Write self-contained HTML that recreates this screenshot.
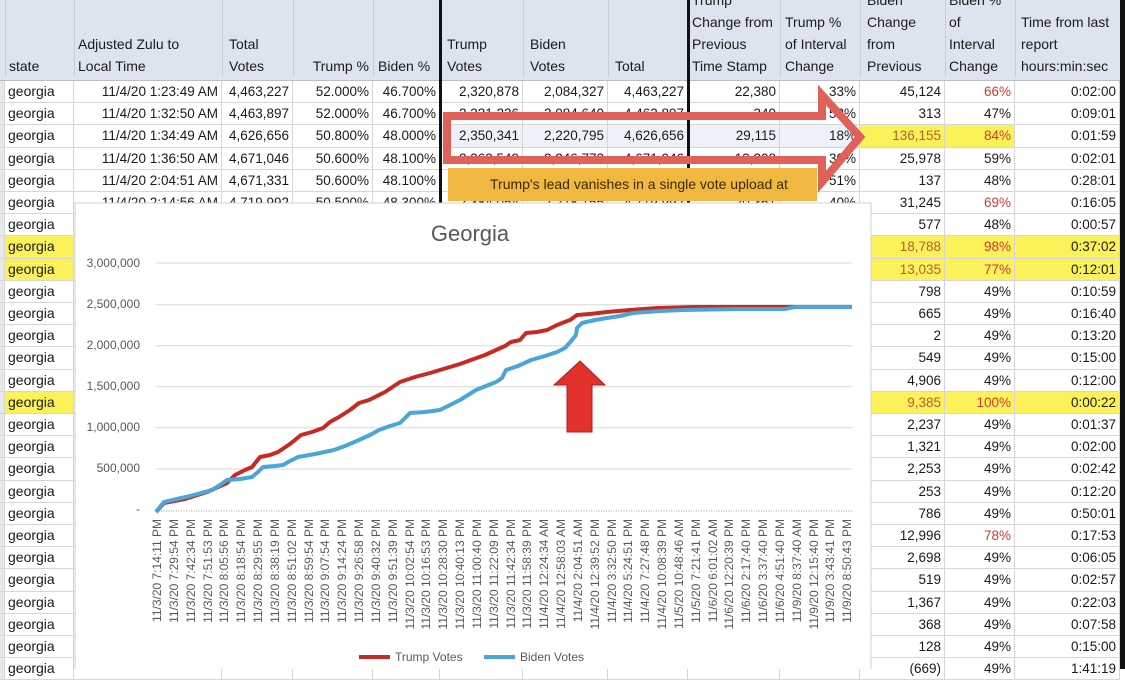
<!DOCTYPE html>
<html><head><meta charset="utf-8"><style>
*{margin:0;padding:0;box-sizing:border-box}
body{width:1125px;height:669px;overflow:hidden;background:#fff;position:relative;font-family:"Liberation Sans",sans-serif;font-size:13.5px;color:#1a1a1a}
.hd{position:absolute;left:0;top:0;width:1120px;height:81px;background:#dde4f0;border-bottom:1px solid #b8bfcc}
.h{position:absolute;bottom:3px;line-height:22px;font-size:14px;padding-left:3px;border-left:1px solid #c8cfdc;height:200px;display:flex;flex-direction:column;justify-content:flex-end}
.r{position:absolute;left:0;height:22.2px;width:1120px;display:flex;border-bottom:1px solid #d6d6d6}
.r div{height:100%;line-height:21px;text-align:right;padding-right:3px;border-right:1px solid #d6d6d6;white-space:nowrap;overflow:hidden}
.r div:nth-child(1){width:5px;background:#e8e8e8}
.r div:nth-child(2){width:69px;text-align:left;padding-left:3px;font-size:14px}
.r div:nth-child(3){width:148px}
.r div:nth-child(4){width:71px}
.r div:nth-child(5){width:80px}
.r div:nth-child(6){width:67px}
.r div:nth-child(7){width:83px}
.r div:nth-child(8){width:85px}
.r div:nth-child(9){width:80px}
.r div:nth-child(10){width:92px}
.r div:nth-child(11){width:80px}
.r div:nth-child(12){width:85px}
.r div:nth-child(13){width:70px}
.r div:nth-child(14){width:105px}
.y{background:#fbf25a}
.rd{color:#d23a32}
.or{color:#b8602a}
.t{background:#eef1f8}
</style></head><body>
<div class="hd">
<div class="h" style="left:5px;width:69px">state</div>
<div class="h" style="left:74px;width:148px">Adjusted Zulu to<br>Local Time</div>
<div class="h" style="left:222px;width:71px;padding-left:6px">Total<br>Votes</div>
<div class="h" style="left:293px;width:80px;align-items:flex-end;padding-right:4px">Trump %</div>
<div class="h" style="left:373px;width:67px;padding-left:4px">Biden %</div>
<div class="h" style="left:440px;width:83px;padding-left:6px">Trump<br>Votes</div>
<div class="h" style="left:523px;width:85px;padding-left:6px">Biden<br>Votes</div>
<div class="h" style="left:608px;width:80px;padding-left:6px">Total</div>
<div class="h" style="left:688px;width:92px">Trump<br>Change from<br>Previous<br>Time Stamp</div>
<div class="h" style="left:780px;width:80px;padding-left:4px">Trump %<br>of Interval<br>Change</div>
<div class="h" style="left:860px;width:85px;padding-left:6px">Biden<br>Change<br>from<br>Previous</div>
<div class="h" style="left:945px;width:70px;padding-left:3px">Biden %<br>of<br>Interval<br>Change</div>
<div class="h" style="left:1015px;width:105px;padding-left:5px">Time from last<br>report<br>hours:min:sec</div>
</div>

<div class="r" style="top:81px"><div></div><div>georgia</div><div>11/4/20 1:23:49 AM</div><div>4,463,227</div><div>52.000%</div><div>46.700%</div><div>2,320,878</div><div>2,084,327</div><div>4,463,227</div><div>22,380</div><div>33%</div><div>45,124</div><div class="rd">66%</div><div>0:02:00</div></div>
<div class="r" style="top:103.2px"><div></div><div>georgia</div><div>11/4/20 1:32:50 AM</div><div>4,463,897</div><div>52.000%</div><div>46.700%</div><div>2,321,226</div><div>2,084,640</div><div>4,463,897</div><div>349</div><div>52%</div><div>313</div><div>47%</div><div>0:09:01</div></div>
<div class="r" style="top:125.4px"><div></div><div>georgia</div><div>11/4/20 1:34:49 AM</div><div>4,626,656</div><div>50.800%</div><div>48.000%</div><div class="t">2,350,341</div><div class="t">2,220,795</div><div class="t">4,626,656</div><div class="t">29,115</div><div class="t">18%</div><div class="y or">136,155</div><div class="y rd">84%</div><div>0:01:59</div></div>
<div class="r" style="top:147.6px"><div></div><div>georgia</div><div>11/4/20 1:36:50 AM</div><div>4,671,046</div><div>50.600%</div><div>48.100%</div><div>2,363,549</div><div>2,246,773</div><div>4,671,046</div><div>13,208</div><div>30%</div><div>25,978</div><div>59%</div><div>0:02:01</div></div>
<div class="r" style="top:169.8px"><div></div><div>georgia</div><div>11/4/20 2:04:51 AM</div><div>4,671,331</div><div>50.600%</div><div>48.100%</div><div>2,363,693</div><div>2,246,910</div><div>4,671,331</div><div>144</div><div>51%</div><div>137</div><div>48%</div><div>0:28:01</div></div>
<div class="r" style="top:192px"><div></div><div>georgia</div><div>11/4/20 2:14:56 AM</div><div>4,719,992</div><div>50.500%</div><div>48.300%</div><div>2,384,054</div><div>2,278,155</div><div>4,719,992</div><div>20,361</div><div>40%</div><div>31,245</div><div class="rd">69%</div><div>0:16:05</div></div>
<div class="r" style="top:214.2px"><div></div><div>georgia</div><div></div><div></div><div></div><div></div><div></div><div></div><div></div><div></div><div></div><div>577</div><div>48%</div><div>0:00:57</div></div>
<div class="r" style="top:236.4px"><div></div><div class="y">georgia</div><div></div><div></div><div></div><div></div><div></div><div></div><div></div><div></div><div></div><div class="y or">18,788</div><div class="y rd">98%</div><div class="y">0:37:02</div></div>
<div class="r" style="top:258.6px"><div></div><div class="y">georgia</div><div></div><div></div><div></div><div></div><div></div><div></div><div></div><div></div><div></div><div class="y or">13,035</div><div class="y rd">77%</div><div class="y">0:12:01</div></div>
<div class="r" style="top:280.8px"><div></div><div>georgia</div><div></div><div></div><div></div><div></div><div></div><div></div><div></div><div></div><div></div><div>798</div><div>49%</div><div>0:10:59</div></div>
<div class="r" style="top:303px"><div></div><div>georgia</div><div></div><div></div><div></div><div></div><div></div><div></div><div></div><div></div><div></div><div>665</div><div>49%</div><div>0:16:40</div></div>
<div class="r" style="top:325.2px"><div></div><div>georgia</div><div></div><div></div><div></div><div></div><div></div><div></div><div></div><div></div><div></div><div>2</div><div>49%</div><div>0:13:20</div></div>
<div class="r" style="top:347.4px"><div></div><div>georgia</div><div></div><div></div><div></div><div></div><div></div><div></div><div></div><div></div><div></div><div>549</div><div>49%</div><div>0:15:00</div></div>
<div class="r" style="top:369.6px"><div></div><div>georgia</div><div></div><div></div><div></div><div></div><div></div><div></div><div></div><div></div><div></div><div>4,906</div><div>49%</div><div>0:12:00</div></div>
<div class="r" style="top:391.8px"><div></div><div class="y">georgia</div><div></div><div></div><div></div><div></div><div></div><div></div><div></div><div></div><div></div><div class="y or">9,385</div><div class="y rd">100%</div><div class="y">0:00:22</div></div>
<div class="r" style="top:414px"><div></div><div>georgia</div><div></div><div></div><div></div><div></div><div></div><div></div><div></div><div></div><div></div><div>2,237</div><div>49%</div><div>0:01:37</div></div>
<div class="r" style="top:436.2px"><div></div><div>georgia</div><div></div><div></div><div></div><div></div><div></div><div></div><div></div><div></div><div></div><div>1,321</div><div>49%</div><div>0:02:00</div></div>
<div class="r" style="top:458.4px"><div></div><div>georgia</div><div></div><div></div><div></div><div></div><div></div><div></div><div></div><div></div><div></div><div>2,253</div><div>49%</div><div>0:02:42</div></div>
<div class="r" style="top:480.6px"><div></div><div>georgia</div><div></div><div></div><div></div><div></div><div></div><div></div><div></div><div></div><div></div><div>253</div><div>49%</div><div>0:12:20</div></div>
<div class="r" style="top:502.8px"><div></div><div>georgia</div><div></div><div></div><div></div><div></div><div></div><div></div><div></div><div></div><div></div><div>786</div><div>49%</div><div>0:50:01</div></div>
<div class="r" style="top:525px"><div></div><div>georgia</div><div></div><div></div><div></div><div></div><div></div><div></div><div></div><div></div><div></div><div>12,996</div><div class="rd">78%</div><div>0:17:53</div></div>
<div class="r" style="top:547.2px"><div></div><div>georgia</div><div></div><div></div><div></div><div></div><div></div><div></div><div></div><div></div><div></div><div>2,698</div><div>49%</div><div>0:06:05</div></div>
<div class="r" style="top:569.4px"><div></div><div>georgia</div><div></div><div></div><div></div><div></div><div></div><div></div><div></div><div></div><div></div><div>519</div><div>49%</div><div>0:02:57</div></div>
<div class="r" style="top:591.6px"><div></div><div>georgia</div><div></div><div></div><div></div><div></div><div></div><div></div><div></div><div></div><div></div><div>1,367</div><div>49%</div><div>0:22:03</div></div>
<div class="r" style="top:613.8px"><div></div><div>georgia</div><div></div><div></div><div></div><div></div><div></div><div></div><div></div><div></div><div></div><div>368</div><div>49%</div><div>0:07:58</div></div>
<div class="r" style="top:636px"><div></div><div>georgia</div><div></div><div></div><div></div><div></div><div></div><div></div><div></div><div></div><div></div><div>128</div><div>49%</div><div>0:15:00</div></div>
<div class="r" style="top:658.2px"><div></div><div>georgia</div><div></div><div></div><div></div><div></div><div></div><div></div><div></div><div></div><div></div><div>(669)</div><div>49%</div><div>1:41:19</div></div>

<div style="position:absolute;left:1120px;top:0;width:5px;height:669px;background:#111"></div>
<div style="position:absolute;left:439px;top:0;width:3px;height:203px;background:#111"></div>
<div style="position:absolute;left:687px;top:0;width:3px;height:203px;background:#111"></div>

<svg style="position:absolute;left:0;top:0" width="1125" height="669" viewBox="0 0 1125 669" font-family="Liberation Sans, sans-serif">
<polygon points="447,116 822,116 822,95 860,137 822,182 822,160 447,160" fill="none" stroke="#e0605a" stroke-width="8" stroke-linejoin="miter"/>
<rect x="448" y="168" width="369" height="33" fill="#f0b840"/>
<text x="490" y="189" font-size="14" fill="#3a2a00">Trump's lead vanishes in a single vote upload at</text>

<rect x="75" y="203" width="796" height="470" fill="#fff" stroke="#d0d0d0"/>
<text x="470" y="241" font-size="22" fill="#595959" text-anchor="middle">Georgia</text>
<g stroke="#d9d9d9" stroke-width="1">
<line x1="156" y1="263" x2="852" y2="263"/><line x1="156" y1="304.7" x2="852" y2="304.7"/><line x1="156" y1="345.7" x2="852" y2="345.7"/><line x1="156" y1="386.7" x2="852" y2="386.7"/><line x1="156" y1="427.7" x2="852" y2="427.7"/><line x1="156" y1="469" x2="852" y2="469"/>
</g>
<line x1="156" y1="511" x2="852" y2="511" stroke="#cfcfcf" stroke-width="2" stroke-dasharray="1,1.5"/>
<g font-size="12" fill="#595959" text-anchor="end">
<text x="140" y="267">3,000,000</text><text x="140" y="308">2,500,000</text><text x="140" y="349">2,000,000</text><text x="140" y="390">1,500,000</text><text x="140" y="431">1,000,000</text><text x="140" y="472">500,000</text><text x="140" y="513">-</text>
</g>
<polyline fill="none" stroke="#c82a22" stroke-width="4" stroke-linejoin="round" points="156,512 164,503 185,499 207,492 227,483 235,475 245,470 252,467 260,457 270,455 278,452 290,444 301,435 312,432 323,428 330,422 339,417 350,410 359,403 369,400 385,392 400,382 415,377 430,373 440,370 450,367 460,364 471,360 485,355 496,350 505,346 511,342 520,340 526,333 537,332 547,330 555,326 562,323 570,320 577,315 590,314 607,312 630,310 658,308 694,307 852,307"/>
<polyline fill="none" stroke="#4aa6d8" stroke-width="4" stroke-linejoin="round" points="156,512 164,502 190,496 212,490 220,485 227,480 240,479 252,477 258,472 263,467 275,466 283,465 290,461 298,457 315,454 334,450 345,446 359,440 370,435 379,430 390,426 400,423 405,418 410,413 425,412 440,410 450,405 460,400 468,395 476,390 486,386 496,382 502,378 506,370 518,366 531,360 545,356 557,352 565,348 572,340 576,335 577,328 582,323 595,320 607,318 620,316 633,313 660,311 684,310 740,309 785,309 795,307 852,307"/>
<polygon points="580,361 605,385 592,385 592,432 567,432 567,385 554,385" fill="#e2302a" stroke="#a82020" stroke-width="1"/>
<g font-size="12" fill="#595959" text-anchor="end">
<text transform="translate(161,519) rotate(-90)">11/3/20 7:14:11 PM</text>
<text transform="translate(178,519) rotate(-90)">11/3/20 7:29:54 PM</text>
<text transform="translate(195,519) rotate(-90)">11/3/20 7:42:34 PM</text>
<text transform="translate(212,519) rotate(-90)">11/3/20 7:51:53 PM</text>
<text transform="translate(228,519) rotate(-90)">11/3/20 8:05:56 PM</text>
<text transform="translate(245,519) rotate(-90)">11/3/20 8:18:54 PM</text>
<text transform="translate(262,519) rotate(-90)">11/3/20 8:29:55 PM</text>
<text transform="translate(279,519) rotate(-90)">11/3/20 8:38:19 PM</text>
<text transform="translate(296,519) rotate(-90)">11/3/20 8:51:02 PM</text>
<text transform="translate(313,519) rotate(-90)">11/3/20 8:59:54 PM</text>
<text transform="translate(329,519) rotate(-90)">11/3/20 9:07:54 PM</text>
<text transform="translate(346,519) rotate(-90)">11/3/20 9:14:24 PM</text>
<text transform="translate(363,519) rotate(-90)">11/3/20 9:26:58 PM</text>
<text transform="translate(380,519) rotate(-90)">11/3/20 9:40:32 PM</text>
<text transform="translate(397,519) rotate(-90)">11/3/20 9:51:39 PM</text>
<text transform="translate(414,519) rotate(-90)">11/3/20 10:02:54 PM</text>
<text transform="translate(430,519) rotate(-90)">11/3/20 10:16:53 PM</text>
<text transform="translate(447,519) rotate(-90)">11/3/20 10:28:30 PM</text>
<text transform="translate(464,519) rotate(-90)">11/3/20 10:40:13 PM</text>
<text transform="translate(481,519) rotate(-90)">11/3/20 11:00:40 PM</text>
<text transform="translate(498,519) rotate(-90)">11/3/20 11:22:09 PM</text>
<text transform="translate(515,519) rotate(-90)">11/3/20 11:42:34 PM</text>
<text transform="translate(531,519) rotate(-90)">11/3/20 11:58:39 PM</text>
<text transform="translate(548,519) rotate(-90)">11/4/20 12:24:34 AM</text>
<text transform="translate(565,519) rotate(-90)">11/4/20 12:58:03 AM</text>
<text transform="translate(582,519) rotate(-90)">11/4/20 2:04:51 AM</text>
<text transform="translate(599,519) rotate(-90)">11/4/20 12:39:52 PM</text>
<text transform="translate(616,519) rotate(-90)">11/4/20 3:32:50 PM</text>
<text transform="translate(632,519) rotate(-90)">11/4/20 5:24:51 PM</text>
<text transform="translate(649,519) rotate(-90)">11/4/20 7:27:48 PM</text>
<text transform="translate(666,519) rotate(-90)">11/4/20 10:08:39 PM</text>
<text transform="translate(683,519) rotate(-90)">11/5/20 10:48:46 AM</text>
<text transform="translate(700,519) rotate(-90)">11/5/20 7:21:41 PM</text>
<text transform="translate(717,519) rotate(-90)">11/6/20 6:01:02 AM</text>
<text transform="translate(733,519) rotate(-90)">11/6/20 12:20:39 PM</text>
<text transform="translate(750,519) rotate(-90)">11/6/20 2:17:40 PM</text>
<text transform="translate(767,519) rotate(-90)">11/6/20 3:37:40 PM</text>
<text transform="translate(784,519) rotate(-90)">11/6/20 4:51:40 PM</text>
<text transform="translate(801,519) rotate(-90)">11/9/20 8:37:40 AM</text>
<text transform="translate(818,519) rotate(-90)">11/9/20 12:15:40 PM</text>
<text transform="translate(834,519) rotate(-90)">11/9/20 3:43:41 PM</text>
<text transform="translate(851,519) rotate(-90)">11/9/20 8:50:43 PM</text>
</g>
<line x1="359" y1="657" x2="390" y2="657" stroke="#c82a22" stroke-width="4"/>
<text x="395" y="661" font-size="12" fill="#595959">Trump Votes</text>
<line x1="484" y1="657" x2="515" y2="657" stroke="#4aa6d8" stroke-width="4"/>
<text x="520" y="661" font-size="12" fill="#595959">Biden Votes</text>
</svg>
</body></html>
